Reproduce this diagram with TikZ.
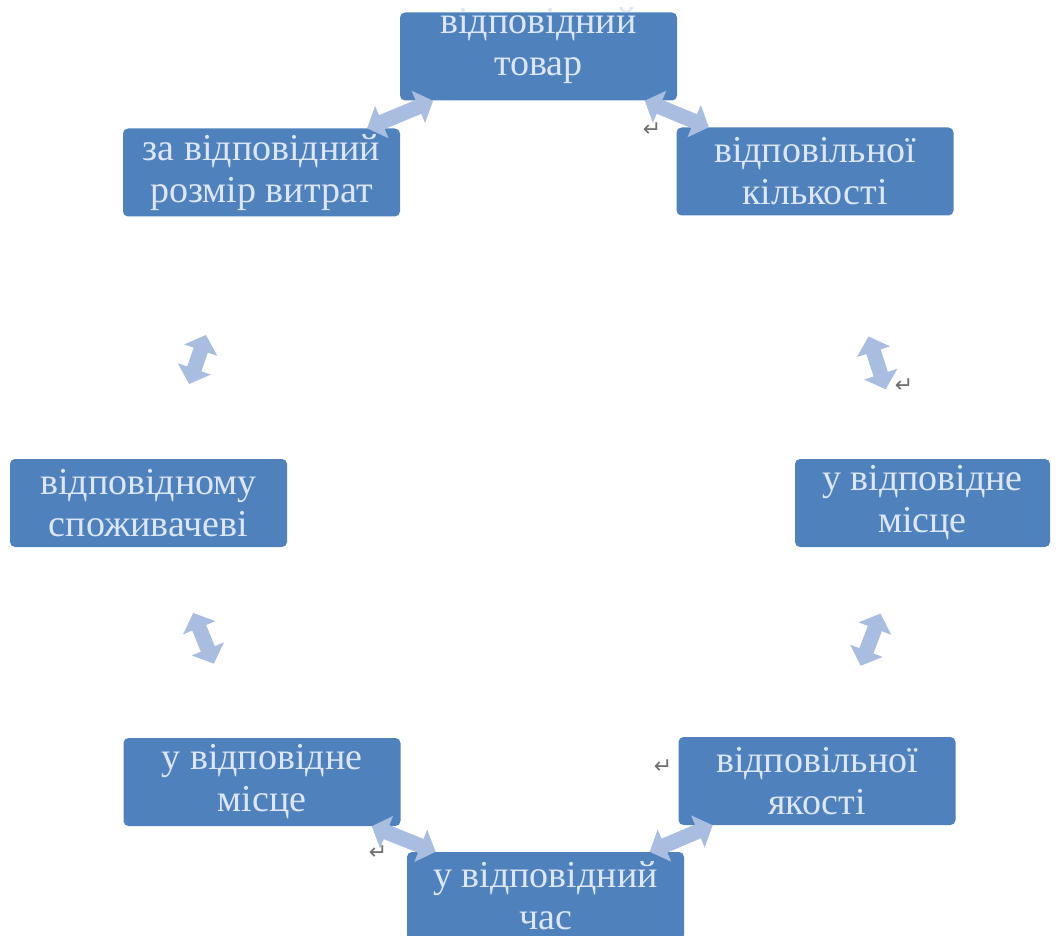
\documentclass[tikz,border=0pt]{standalone}
\usepackage{fontspec}
\setmainfont{Liberation Serif}
\newfontfamily\marksfont{DejaVu Sans}
\usetikzlibrary{arrows.meta}
\definecolor{stagefill}{HTML}{4F81BD}
\definecolor{stagefont}{HTML}{DCE6F4}
\definecolor{cyclearrow}{HTML}{A9BDE1}
\definecolor{markgray}{HTML}{707070}
\tikzset{
    stagelabel/.style={
        text=stagefont,
        align=center,
        font=\fontsize{38}{42}\selectfont
    },
    stage/.style={
        stagelabel,
        rectangle,
        rounded corners=5pt,
        fill=stagefill,
        minimum width=277pt,
        minimum height=88pt,
        inner sep=0pt
    },
    cyclearr/.style={
        color=cyclearrow,
        line width=15pt,
        {Triangle[length=16pt,width=34pt]}-{Triangle[length=16pt,width=34pt]}
    },
    retmark/.style={
        text=markgray,
        inner sep=0pt,
        font=\marksfont\fontsize{22}{22}\selectfont
    }
}

\begin{document}
\begin{tikzpicture}[x=1pt,y=-1pt]
\useasboundingbox (0,0) rectangle (1058,936);
\node[stage,label={[stagelabel,yshift=11pt]center:{відповідний\\товар}}] (tovar) at (538.5,56.5) {};
\node[stage] (kilk) at (815,171.5) {відповільної\\кількості};
\node[stage,minimum width=255pt] (misceR) at (922.5,503) {у відповідне\\місце};
\node[stage] (yakist) at (817,781) {відповільної\\якості};
\node[stage] (chas) at (545.5,896) {у відповідний\\час};
\node[stage] (misceL) at (262,782) {у відповідне\\місце};
\node[stage] (spozh) at (148.5,503) {відповідному\\споживачеві};
\node[stage] (vytraty) at (261.5,172.5) {за відповідний\\розмір витрат};
\path[cyclearr]
  (vytraty) edge[shorten <=0pt,shorten >=0pt] (tovar)
  (tovar) edge[shorten <=0pt,shorten >=0pt] (kilk)
  (kilk) edge[shorten <=127pt,shorten >=73pt] (misceR)
  (misceR) edge[shorten <=71pt,shorten >=76pt] (yakist)
  (yakist) edge[shorten <=0pt,shorten >=0pt] (chas)
  (chas) edge[shorten <=0pt,shorten >=0pt] (misceL)
  (misceL) edge[shorten <=80pt,shorten >=71pt] (spozh)
  (spozh) edge[shorten <=79pt,shorten >=125pt] (vytraty);
\node[retmark] (m1) at (652,130) {↵};
\node[retmark] (m2) at (904,386) {↵};
\node[retmark] (m3) at (663,767) {↵};
\node[retmark] (m4) at (378,853) {↵};
\end{tikzpicture}
\end{document}
